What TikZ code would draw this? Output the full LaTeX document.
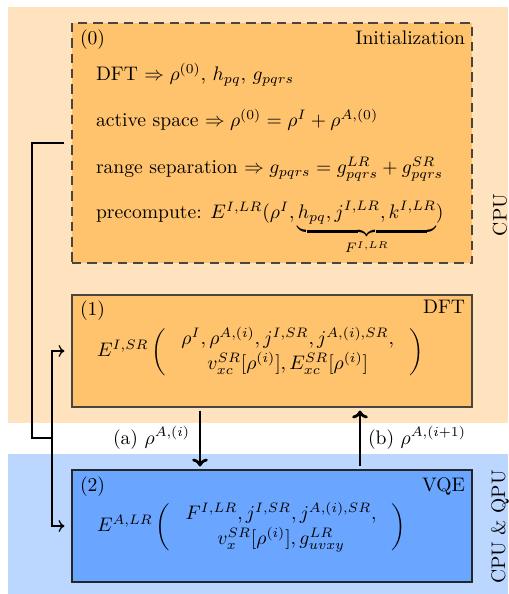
\documentclass[tikz,border=0pt]{standalone}
\usepackage{amsmath}
\usetikzlibrary{arrows.meta}
\definecolor{cpubg}{HTML}{FFE3BE}
\definecolor{cpubox}{HTML}{FFC36D}
\definecolor{qpubg}{HTML}{BBD6FF}
\definecolor{qpubox}{HTML}{6AA6FF}
\definecolor{edge}{HTML}{4A4540}
\newcommand{\upx}{0.51pt}
\begin{document}
\begin{tikzpicture}[x=0.51pt,y=-0.51pt,
  boxbase/.style={draw=edge,line width=0.55pt,minimum width={400*\upx},minimum height={112*\upx},inner sep=0pt},
  initbox/.style={boxbase,fill=cpubox,dash pattern=on 4.8pt off 3pt,minimum height={240*\upx}},
  dftbox/.style={boxbase,fill=cpubox},
  vqebox/.style={boxbase,fill=qpubox,draw=black!85},
  txt/.style={inner sep=0pt,outer sep=0pt},
  flow/.style={line width=1.4pt,-{To[length=4pt,width=8pt]},shorten <=3*\upx,shorten >=3*\upx},
  link/.style={line width=0.65pt},
  linkarrow/.style={line width=0.65pt,-{To[length=3pt,width=6pt]},shorten >=7*\upx}]
\useasboundingbox (0,0) rectangle (508,594);
% backgrounds
\fill[cpubg] (8,7) rectangle (508,423);
\fill[qpubg] (8,454) rectangle (508,594);
% boxes
\node[initbox] (b0) at (272,143) {};
\node[dftbox] (b1) at (272,351) {};
\node[vqebox] (b2) at (272,526) {};
% box 0 texts
\node[txt,anchor=base west] (t0) at (80,45) {(0)};
\node[txt,anchor=base east] (n0) at (465,45) {Initialization};
\node[txt,anchor=base west] (l1) at (96,81) {DFT $\Rightarrow \rho^{(0)}$, $h_{pq}$, $g_{pqrs}$};
\node[txt,anchor=base west] (l2) at (96,127) {active space $\Rightarrow \rho^{(0)} = \rho^{I} + \rho^{A,(0)}$};
\node[txt,anchor=base west] (l3) at (96,174) {range separation $\Rightarrow g_{pqrs} = g^{LR}_{pqrs} + g^{SR}_{pqrs}$};
\node[txt,anchor=base west] (l4) at (96,219) {precompute: $E^{I,LR}(\rho^{I},\underbrace{h_{pq},j^{I,LR},k^{I,LR}}_{F^{I,LR}})$};
% box 1 texts
\node[txt,anchor=base west] (t1) at (80,316) {(1)};
\node[txt,anchor=base east] (n1) at (465,314) {DFT};
\node[txt,anchor=west] (f1) at (97,352) {$E^{I,SR}\left(\;\begin{array}{c}\rho^{I},\rho^{A,(i)},j^{I,SR},j^{A,(i),SR},\\ v^{SR}_{xc}[\rho^{(i)}],E^{SR}_{xc}[\rho^{(i)}]\end{array}\;\right)$};
% box 2 texts
\node[txt,anchor=base west] (t2) at (80,491) {(2)};
\node[txt,anchor=base east] (n2) at (465,491) {VQE};
\node[txt,anchor=west] (f2) at (97,527) {$E^{A,LR}\left(\;\begin{array}{c}F^{I,LR},j^{I,SR},j^{A,(i),SR},\\ v^{SR}_{x}[\rho^{(i)}],g^{LR}_{uvxy}\end{array}\;\right)$};
% side labels
\node[txt,rotate=90] (cpu) at (500,215) {CPU};
\node[txt,rotate=90] (qpu) at (500,527) {CPU \& QPU};
% flow arrows
\coordinate (xa) at (200,0);
\coordinate (xb) at (360,0);
\draw[flow] (b1.south -| xa) -- (b2.north -| xa);
\draw[flow] (b2.north -| xb) -- (b1.south -| xb);
\node[txt,anchor=base east] (la) at (190,444) {(a) $\rho^{A,(i)}$};
\node[txt,anchor=base west] (lb) at (368,444) {(b) $\rho^{A,(i+1)}$};
% left connector
\coordinate (c1) at (32,143);
\coordinate (c2) at (32,438);
\coordinate (j) at (52,438);
\draw[link,shorten <=7*\upx] (b0.west) -- (c1) -- (c2) -- (j);
\draw[linkarrow] (j) |- (b1.west);
\draw[linkarrow] (j) |- (b2.west);
\end{tikzpicture}
\end{document}
